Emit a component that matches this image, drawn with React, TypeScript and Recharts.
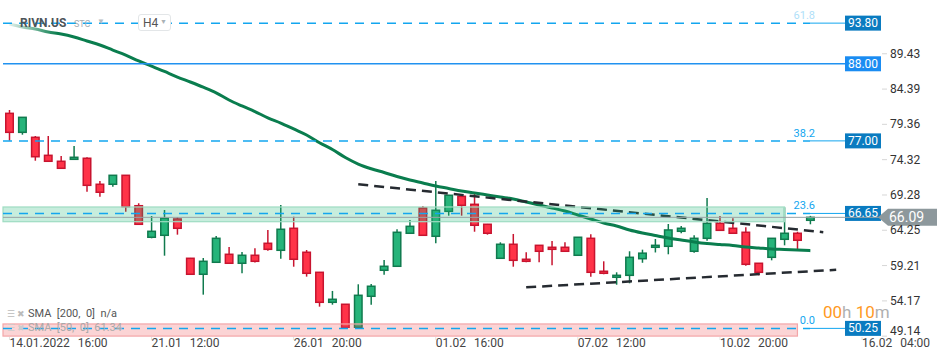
import React from 'react';
import { ComposedChart, Bar, Line, XAxis, YAxis, ReferenceLine, ReferenceArea } from 'recharts';

// RIVN.US H4 candles, 14.01.2022 16:00 -> 15.02.2022 12:00
const opens = [
  80.93, 78.22, 77.51, 74.94, 74.09, 74.37, 74.52, 70.81, 70.81, 72.09,
  67.75, 63.25, 63.53, 65.86, 60.25, 57.97, 59.68, 60.82, 59.54, 60.68,
  62.39, 61.39, 64.53, 61.11, 58.25, 53.97, 53.69, 50.41, 54.83, 58.54,
  59.11, 63.82, 67.43, 63.39, 66.95, 69.09, 67.95, 65.1, 60.25, 62.25,
  60.11, 62.1, 61.82, 61.82, 60.68, 63.1, 58.4, 57.54, 57.82, 60.19,
  61.82, 61.96, 64.1, 61.25, 63.1, 65.24, 64.53, 63.96, 59.54, 60.39,
  62.96, 63.82, 65.67,
];
const highs = [
  81.41, 80.4, 77.7, 77.7, 74.84, 76.27, 74.66, 71.28, 72.12, 72.12,
  68.1, 66.28, 67.14, 66.1, 60.3, 60.29, 63.43, 61.86, 61.15, 61.68,
  64.29, 67.85, 66.18, 61.43, 58.3, 55.59, 53.72, 56.54, 56.58, 60.01,
  64.39, 65.71, 67.71, 71.28, 69.3, 69.15, 69.61, 65.15, 62.53, 63.72,
  61.11, 62.15, 62.72, 62.53, 63.3, 63.67, 59.82, 58.25, 61.25, 61.48,
  63.0, 65.14, 64.86, 63.53, 68.85, 66.28, 65.96, 64.67, 59.58, 63.14,
  67.53, 64.04, 66.3,
];
const lows = [
  77.03, 77.88, 74.17, 74.05, 73.05, 74.35, 69.75, 69.04, 70.46, 66.9,
  65.05, 63.1, 60.62, 63.62, 57.92, 55.06, 59.65, 59.5, 58.11, 59.65,
  61.33, 60.19, 59.05, 57.63, 53.35, 53.63, 50.38, 50.25, 53.63, 57.91,
  59.05, 63.78, 63.5, 62.39, 66.33, 66.33, 64.04, 63.62, 60.2, 59.05,
  59.68, 59.68, 59.25, 61.2, 60.63, 57.63, 57.97, 56.48, 56.68, 59.61,
  61.08, 60.82, 63.82, 61.05, 62.76, 64.2, 63.78, 59.19, 57.82, 59.96,
  62.1, 61.53, 65.1,
];
const closes = [
  78.22, 80.36, 74.74, 74.09, 73.09, 74.66, 70.66, 69.67, 72.09, 67.61,
  65.1, 64.1, 65.96, 64.53, 57.97, 59.82, 63.1, 59.54, 60.68, 59.82,
  61.53, 64.39, 60.11, 58.11, 53.97, 54.4, 50.41, 54.97, 56.26, 59.11,
  63.96, 64.81, 63.53, 67.1, 69.24, 67.81, 64.96, 63.82, 62.25, 59.96,
  59.82, 61.25, 61.53, 61.25, 63.25, 58.25, 58.11, 57.82, 60.39, 60.98,
  62.1, 64.29, 64.53, 63.1, 65.24, 64.24, 63.82, 59.39, 58.25, 63.1,
  63.82, 62.82, 66.09,
];
const sma50 = [
  93.67, 93.25, 92.96, 92.53, 92.25, 91.82, 91.25, 90.68, 89.96, 89.25,
  88.4, 87.68, 86.9, 86.11, 85.4, 84.66, 83.86, 82.83, 81.98, 81.19,
  80.29, 79.55, 78.7, 77.84, 76.74, 75.77, 74.63, 73.7, 73.03, 72.49,
  71.92, 71.42, 70.99, 70.56, 70.21, 69.85, 69.57, 69.28, 68.99, 68.71,
  68.28, 67.85, 67.43, 67.0, 66.43, 65.86, 65.29, 64.86, 64.29, 63.86,
  63.5, 63.15, 62.86, 62.58, 62.36, 62.22, 62.08, 61.86, 61.72, 61.58,
  61.51, 61.43, 61.34,
];

// drawn trend lines (slot index, price)
const upperTrend = [{ i: 27, v: 70.81 }, { i: 63, v: 63.98 }];
const lowerTrend = [{ i: 40, v: 56.11 }, { i: 64, v: 58.61 }];

const tickIdx = [0, 11, 22, 33, 44, 55, 66];
const tickDates = ['14.01.2022', '21.01', '26.01', '01.02', '07.02', '10.02', '16.02'];
const tickTimes = ['16:00', '12:00', '20:00', '16:00', '12:00', '20:00', '04:00'];
const priceTicks = [49.14, 54.17, 59.21, 64.25, 69.28, 74.32, 79.36, 84.39, 89.43];

const fibLevels = [93.8, 77.0, 66.65, 50.25];
const fibNames = ['61.8', '38.2', '23.6', '0.0'];
const resistance = 88.0;
const lastPrice = 66.09;
const greenZone = [65.47, 67.57];
const redZone = [49.15, 50.88];

const SLOTS = 73; // candles + empty future slots
const W = 950;
const H = 361;
const M = { top: 0, right: 4, bottom: 0, left: 3 };
const BAND = (W - M.left - M.right) / SLOTS;

const RED = '#ff3348';
const RED_EDGE = '#c8142f';
const GREEN = '#26b47a';
const GREEN_EDGE = '#107a4e';
const FIB = '#13a6ef';
const BOX = '#0a7bc0';
const FONT = 'Roboto, "Noto Sans", sans-serif';

const data = Array.from({ length: SLOTS }, (_, i) => ({
  i,
  o: opens[i],
  h: highs[i],
  l: lows[i],
  c: closes[i],
  range: i < opens.length ? [lows[i], highs[i]] : null,
  sma: i < sma50.length ? sma50[i] : null,
  up: upperTrend.find((p) => p.i === i)?.v ?? null,
  lo: lowerTrend.find((p) => p.i === i)?.v ?? null,
}));

const Candle = (props: any) => {
  const { x, y, width, height, payload } = props;
  if (payload == null || payload.o == null) return null;
  const top = Math.min(y, y + height);
  const span = Math.abs(height);
  const { o, h: hi, l: lo, c } = payload;
  const px = (v: number) => top + ((hi - v) / (hi - lo)) * span;
  const rising = c >= o;
  const bTop = px(Math.max(o, c));
  const bBot = px(Math.min(o, c));
  const cx = x + width / 2;
  return (
    <g>
      <line x1={cx} x2={cx} y1={top} y2={top + span} stroke={rising ? GREEN_EDGE : RED_EDGE} strokeWidth={1.5} />
      <rect
        x={x + 0.75}
        y={bTop}
        width={width - 1.5}
        height={Math.max(bBot - bTop, 1.5)}
        fill={rising ? GREEN : RED}
        stroke={rising ? GREEN_EDGE : RED_EDGE}
        strokeWidth={1.5}
      />
    </g>
  );
};

const PriceTick = (props: any) => {
  const { y, payload } = props;
  return (
    <g>
      <line x1={W - 68} x2={W - 63} y1={y} y2={y} stroke="#d6d6d6" />
      <text x={W - 60} y={Math.min(y + 4, 335)} fontSize={12} fill="#333" fontFamily={FONT}>
        {payload.value.toFixed(2)}
      </text>
    </g>
  );
};

const TimeTick = (props: any) => {
  const { x, y, payload } = props;
  const k = tickIdx.indexOf(payload.value);
  if (k < 0) return null;
  return (
    <text x={x} y={y + 7} fontSize={12} fill="#444" fontFamily={FONT}>
      <tspan>{tickDates[k]}</tspan>
      <tspan dx={8}>{tickTimes[k]}</tspan>
    </text>
  );
};

// the line's end points may come in either order
const ends = (p: any) => ({ left: Math.min(p.x1, p.x2), right: Math.max(p.x1, p.x2), y: p.y1 });

const fibShape = (name: string, price: number) => (p: any) => {
  const { left, right, y } = ends(p);
  const boxX = right - 101;
  return (
    <g>
      <line x1={left} x2={boxX - 35} y1={y} y2={y} stroke={FIB} strokeWidth={1.5} strokeDasharray="9 7" />
      <line x1={boxX - 35} x2={boxX} y1={y} y2={y} stroke={FIB} strokeWidth={1} />
      <text x={boxX - 30} y={y - 4} textAnchor="end" fontSize={11} fill={FIB} fontFamily={FONT}
        opacity={price > 90 ? 0.35 : 1}>
        {name}
      </text>
      <rect x={boxX} y={y - 7.5} width={36} height={15} fill={BOX} />
      <text x={boxX + 18} y={y + 4} textAnchor="middle" fontSize={12} fill="#fff" fontFamily={FONT}>
        {price.toFixed(2)}
      </text>
    </g>
  );
};

const resistanceShape = (p: any) => {
  const { left, right, y } = ends(p);
  const boxX = right - 101;
  return (
    <g>
      <line x1={left} x2={boxX} y1={y} y2={y} stroke="#2192f0" strokeWidth={1.5} />
      <rect x={boxX} y={y - 7.5} width={36} height={15} fill="#1a8cf2" />
      <text x={boxX + 18} y={y + 4} textAnchor="middle" fontSize={12} fill="#fff" fontFamily={FONT}>
        {resistance.toFixed(2)}
      </text>
    </g>
  );
};

const lastPriceShape = (p: any) => {
  const { left, right, y } = ends(p);
  const bx = right - 66;
  return (
    <g>
      <line x1={left} x2={bx} y1={y} y2={y} stroke="#98a2a6" strokeWidth={1} />
      <path
        d={`M${bx - 2},${y} L${bx + 8},${y - 8.5} L${right - 9},${y - 8.5} L${right - 9},${y + 8.5} L${bx + 8},${y + 8.5} Z`}
        fill="#8d989c"
      />
      <text x={bx + 9} y={y + 5} fontSize={14} fill="#fff" fontFamily={FONT}>
        {lastPrice.toFixed(2)}
      </text>
    </g>
  );
};

const zoneShape = (fill: string, stroke: string) => (p: any) => (
  <rect
    x={p.x}
    y={p.y}
    width={Math.max(p.width - BAND / 2, 0)}
    height={p.height}
    fill={fill}
    fillOpacity={0.26}
    stroke={stroke}
    strokeWidth={1.2}
  />
);

export default function App() {
  return (
    <div style={{ position: 'relative', width: W, height: H, fontFamily: FONT, overflow: 'hidden' }}>
      <style>{'body{margin:0}'}</style>
      <ComposedChart width={W} height={H} data={data} margin={M}>
        <defs>
          <linearGradient id="smaFade" x1="0" y1="0" x2="1" y2="0">
            <stop offset="0" stopColor="#0a7d4e" stopOpacity={0.12} />
            <stop offset="0.06" stopColor="#0a7d4e" stopOpacity={1} />
            <stop offset="1" stopColor="#0a7d4e" stopOpacity={1} />
          </linearGradient>
        </defs>
        <XAxis
          dataKey="i"
          type="category"
          ticks={tickIdx}
          interval={0}
          height={24}
          axisLine={false}
          tickLine={{ stroke: '#e2e2e2' }}
          tickSize={3}
          tickMargin={0}
          tick={<TimeTick />}
        />
        <YAxis
          type="number"
          domain={[49.02, 97.1]}
          allowDataOverflow
          orientation="right"
          mirror
          ticks={priceTicks}
          interval={0}
          axisLine={false}
          tickLine={false}
          tick={<PriceTick />}
        />
        <Bar dataKey="range" barSize={9} shape={(p: any) => <Candle {...p} />} isAnimationActive={false} />
        <Line dataKey="sma" type="monotone" stroke="url(#smaFade)" strokeWidth={3} dot={false}
          isAnimationActive={false} />
        <Line dataKey="up" type="linear" connectNulls stroke="#262b31" strokeWidth={2.5} strokeDasharray="10 6"
          dot={false} isAnimationActive={false} />
        <Line dataKey="lo" type="linear" connectNulls stroke="#262b31" strokeWidth={2.5} strokeDasharray="10 6"
          dot={false} isAnimationActive={false} />
        <ReferenceArea y1={greenZone[0]} y2={greenZone[1]} x2={60} ifOverflow="visible" zIndex={450}
          shape={zoneShape('#27b97a', '#9fdcc2')} />
        <ReferenceArea y1={redZone[0]} y2={redZone[1]} x2={61} ifOverflow="visible" zIndex={450}
          shape={zoneShape('#f0585e', '#f3a6a8')} />
        <ReferenceLine y={resistance} zIndex={600} shape={resistanceShape} />
        {fibLevels.map((v, k) => (
          <ReferenceLine key={v} y={v} zIndex={600} shape={fibShape(fibNames[k], v)} />
        ))}
        <ReferenceLine y={lastPrice} zIndex={650} shape={lastPriceShape} />
      </ComposedChart>

      {/* instrument header */}
      <div style={{ position: 'absolute', left: 20, top: 16, fontSize: 12, fontWeight: 700, color: '#4d5459' }}>
        RIVN.US
      </div>
      <div style={{ position: 'absolute', left: 74, top: 19, fontSize: 9, color: '#a5adb3' }}>STC</div>
      <div style={{ position: 'absolute', left: 97, top: 17, fontSize: 8, color: '#b5bcc2' }}>▼</div>
      <div
        style={{
          position: 'absolute', left: 138, top: 14, width: 33, height: 17, border: '1px solid #e3e6e8',
          borderRadius: 3, background: '#fff', fontSize: 12, color: '#555', boxSizing: 'border-box',
        }}
      >
        <span style={{ position: 'absolute', left: 4, top: 1 }}>H4</span>
        <span style={{ position: 'absolute', left: 21, top: 3, fontSize: 7, color: '#aab1b6' }}>▼</span>
      </div>

      {/* indicator legend */}
      <div style={{ position: 'absolute', left: 7, top: 307, fontSize: 11, color: '#555', lineHeight: '13px' }}>
        <div>
          <span style={{ color: '#bbb', fontSize: 9 }}>☰ ✖</span> SMA&nbsp; [200,&nbsp; 0]&nbsp; n/a
        </div>
        <div style={{ color: '#a9a9a9' }}>
          <span style={{ color: '#ccc', fontSize: 9 }}>☰ ✖</span> SMA&nbsp; [50,&nbsp; 0]&nbsp; 61.34
        </div>
      </div>

      {/* candle countdown */}
      <div style={{ position: 'absolute', left: 823, top: 302, fontSize: 17, lineHeight: '20px' }}>
        <span style={{ color: '#ff9a1f' }}>00</span>
        <span style={{ color: '#b0b0b0' }}>h </span>
        <span style={{ color: '#ff9a1f' }}>10</span>
        <span style={{ color: '#b0b0b0' }}>m</span>
      </div>
    </div>
  );
}
